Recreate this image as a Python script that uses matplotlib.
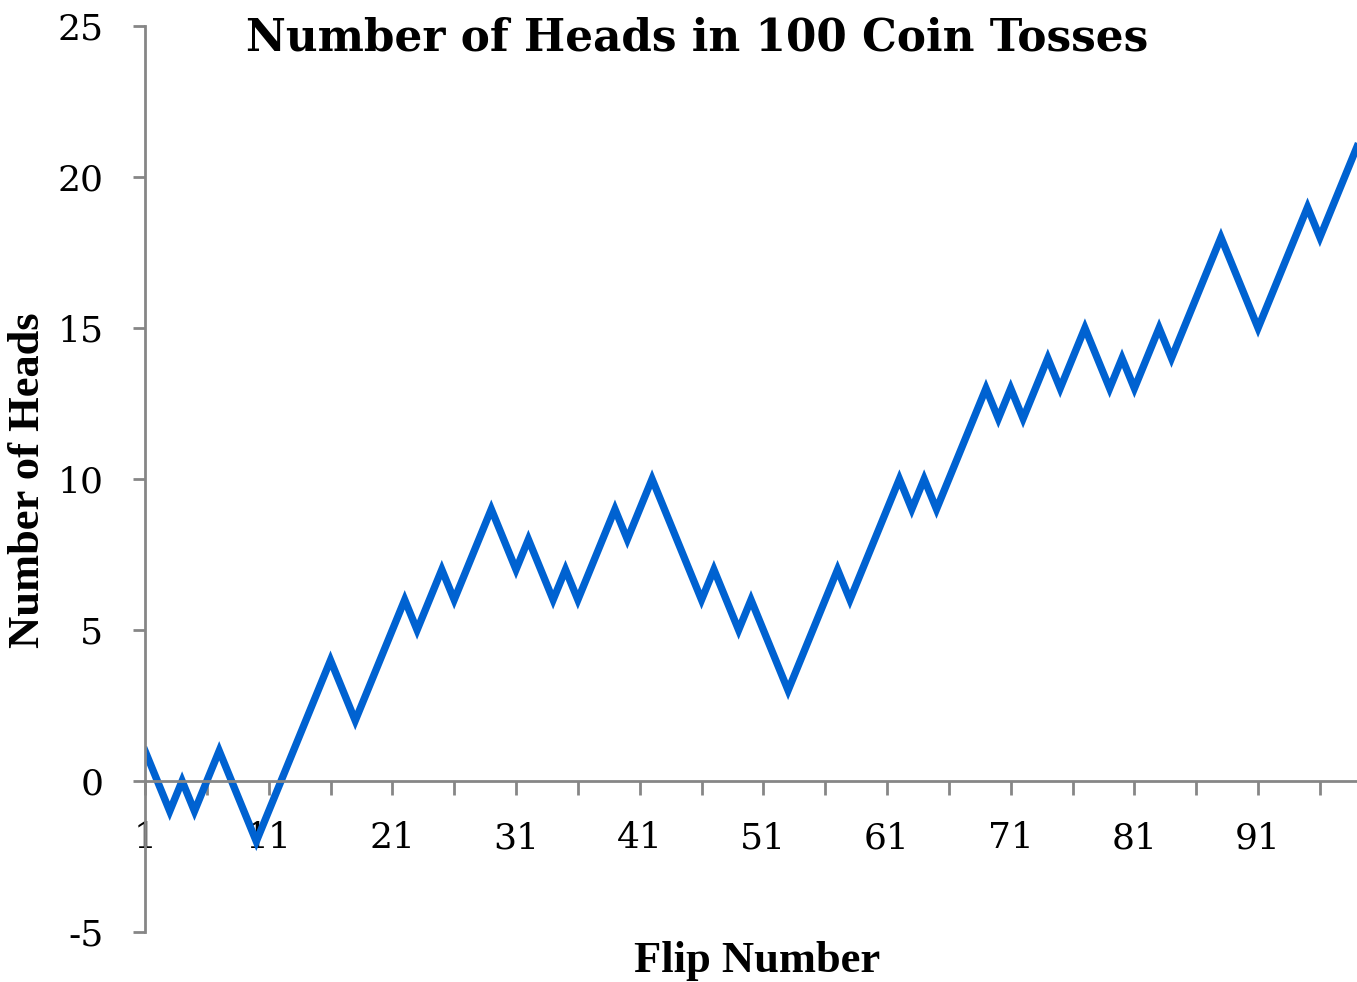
import numpy as np
import matplotlib
matplotlib.use("Agg")
import matplotlib.pyplot as plt

# Datos: número de caras acumulado (caras - cruces)
flips = list(range(1, 100))
heads = [1, 0, -1, 0, -1, 0, 1, 0, -1, -2,
         -1, 0, 1, 2, 3, 4, 3, 2, 3, 4,
         5, 6, 5, 6, 7, 6, 7, 8, 9, 8,
         7, 8, 7, 6, 7, 6, 7, 8, 9, 8,
         9, 10, 9, 8, 7, 6, 7, 6, 5, 6,
         5, 4, 3, 4, 5, 6, 7, 6, 7, 8,
         9, 10, 9, 10, 9, 10, 11, 12, 13, 12,
         13, 12, 13, 14, 13, 14, 15, 14, 13, 14,
         13, 14, 15, 14, 15, 16, 17, 18, 17, 16,
         15, 16, 17, 18, 19, 18, 19, 20, 21]
xtick_labels = [1, 11, 21, 31, 41, 51, 61, 71, 81, 91]
yticks = [-5, 0, 5, 10, 15, 20, 25]

plt.rcParams['axes.unicode_minus'] = False
serif = ['DejaVu Serif']
grey = '#868686'

fig = plt.figure(figsize=(13.57, 9.82), dpi=100)
ax = fig.add_axes([145/1357, 50/982, 1212/1357, 906/982])

ax.plot(flips, heads, color='#0062D1', linewidth=5.3, solid_joinstyle='miter')

ax.set_xlim(1, 99)
ax.set_ylim(-5, 25)

# Ejes estilo Excel: eje X en y=0
for s in ['top', 'right']:
    ax.spines[s].set_visible(False)
ax.spines['bottom'].set_position(('data', 0))
for s in ['bottom', 'left']:
    ax.spines[s].set_color(grey)
    ax.spines[s].set_linewidth(2)

ax.set_xticks(range(1, 100, 5))
ax.set_xticklabels([str(t) if t in xtick_labels else '' for t in range(1, 100, 5)],
                   fontfamily=serif, fontsize=26)
ax.set_yticks(yticks)
ax.set_yticklabels([str(t) for t in yticks], fontfamily=serif, fontsize=26)
ax.tick_params(axis='x', length=10, width=2, color=grey, pad=19)
ax.tick_params(axis='y', length=9, width=2, color=grey, pad=21)

fig.text(0.514, 0.961, 'Number of Heads in 100 Coin Tosses', ha='center', va='center',
         fontfamily=serif, fontweight='bold', fontsize=31.5)
fig.text(0.558, 0.021, 'Flip Number', ha='center', va='center',
         fontfamily=['Liberation Serif'], fontweight='bold', fontsize=32)
fig.text(0.021, 0.511, 'Number of Heads', ha='center', va='center', rotation=90,
         fontfamily=['Liberation Serif'], fontweight='bold', fontsize=32)

fig.savefig('out.png', dpi=100)
